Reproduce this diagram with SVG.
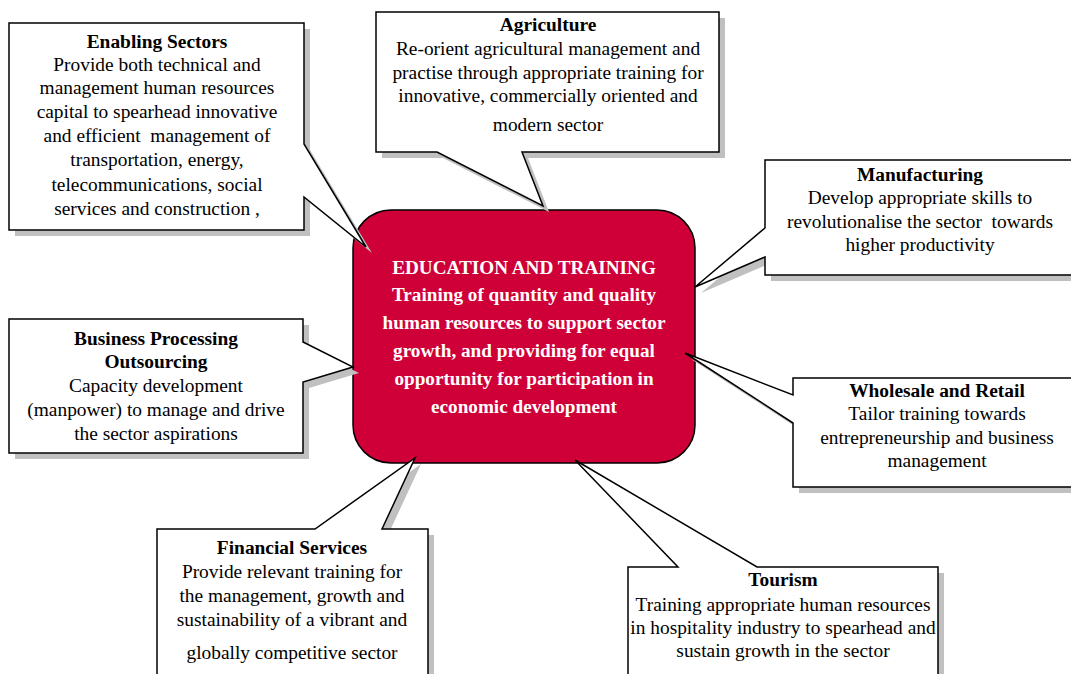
<svg xmlns="http://www.w3.org/2000/svg" width="1071" height="674" viewBox="0 0 1071 674">
<style>
.box{fill:#fff;stroke:#000;stroke-width:1.5;stroke-linejoin:miter}
.sh{fill:#c0c0c0}
.core{fill:#cf0038;stroke:#000;stroke-width:1.5}
text{font-family:"Liberation Serif","Times New Roman",serif;font-size:19.4px;text-anchor:middle;fill:#000}
.b{font-weight:bold}
.w{fill:#fff;font-weight:bold;font-size:19.2px}
</style>
<rect width="1071" height="674" fill="#fff"/>
<g id="connectors"></g>
<g id="core">
<rect class="core" x="353" y="210" width="342" height="253" rx="38" ry="38"/>
<text class="w" x="524" y="274">EDUCATION AND TRAINING</text>
<text class="w" x="524" y="301">Training of quantity and quality</text>
<text class="w" x="524" y="329">human resources to support sector</text>
<text class="w" x="524" y="357">growth, and providing for equal</text>
<text class="w" x="524" y="385">opportunity for participation in</text>
<text class="w" x="524" y="413">economic development</text>
</g>
<g id="enabling">
<path class="sh" transform="translate(6,6)" d="M9,23 H304 V144 L366,247 L304,197 V230 H9 Z"/>
<path class="box" d="M9,23 H304 V144 L366,247 L304,197 V230 H9 Z"/>
<text class="b" x="157" y="48">Enabling Sectors</text>
<text x="157" y="71">Provide both technical and</text>
<text x="157" y="94">management human resources</text>
<text x="157" y="118">capital to spearhead innovative</text>
<text x="157" y="142" xml:space="preserve">and efficient  management of</text>
<text x="157" y="166">transportation, energy,</text>
<text x="157" y="191">telecommunications, social</text>
<text x="157" y="215">services and construction ,</text>
</g>
<g id="agriculture">
<path class="sh" transform="translate(6,6)" d="M376,12 H719 V152 H522 L543,206 L437,152 H376 Z"/>
<path class="box" d="M376,12 H719 V152 H522 L543,206 L437,152 H376 Z"/>
<text class="b" x="548" y="31">Agriculture</text>
<text x="548" y="55">Re-orient agricultural management and</text>
<text x="548" y="79">practise through appropriate training for</text>
<text x="548" y="102">innovative, commercially oriented and</text>
<text x="548" y="131">modern sector</text>
</g>
<g id="manufacturing">
<path class="sh" transform="translate(6,6)" d="M765,160 H1076 V275 H765 V257 L695,287 L765,228 Z"/>
<path class="box" d="M765,160 H1076 V275 H765 V257 L695,287 L765,228 Z"/>
<text class="b" x="920" y="181">Manufacturing</text>
<text x="920" y="204">Develop appropriate skills to</text>
<text x="920" y="228" xml:space="preserve">revolutionalise the sector  towards</text>
<text x="920" y="251">higher productivity</text>
</g>
<g id="bpo">
<path class="sh" transform="translate(6,6)" d="M9,319 H303 V342 L353,367 L303,382 V453 H9 Z"/>
<path class="box" d="M9,319 H303 V342 L353,367 L303,382 V453 H9 Z"/>
<text class="b" x="156" y="345">Business Processing</text>
<text class="b" x="156" y="368">Outsourcing</text>
<text x="156" y="392">Capacity development</text>
<text x="156" y="416">(manpower) to manage and drive</text>
<text x="156" y="440">the sector aspirations</text>
</g>
<g id="wholesale">
<path class="sh" transform="translate(6,6)" d="M793,378 H1076 V487 H793 V423 L685,353 L793,395 Z"/>
<path class="box" d="M793,378 H1076 V487 H793 V423 L685,353 L793,395 Z"/>
<text class="b" x="937" y="397">Wholesale and Retail</text>
<text x="937" y="420">Tailor training towards</text>
<text x="937" y="444">entrepreneurship and business</text>
<text x="937" y="467">management</text>
</g>
<g id="financial">
<path class="sh" transform="translate(6,6)" d="M157,529 H315 L415,458 L382,529 H428 V700 H157 Z"/>
<path class="box" d="M157,529 H315 L415,458 L382,529 H428 V700 H157 Z"/>
<text class="b" x="292" y="554">Financial Services</text>
<text x="292" y="578">Provide relevant training for</text>
<text x="292" y="602">the management, growth and</text>
<text x="292" y="626">sustainability of a vibrant and</text>
<text x="292" y="659">globally competitive sector</text>
</g>
<g id="tourism">
<path class="sh" transform="translate(6,6)" d="M628,567 H678 L575,460 L757,567 H938 V700 H628 Z"/>
<path class="box" d="M628,567 H678 L575,460 L757,567 H938 V700 H628 Z"/>
<text class="b" x="783" y="586">Tourism</text>
<text x="783" y="611">Training appropriate human resources</text>
<text x="783" y="634">in hospitality industry to spearhead and</text>
<text x="783" y="657">sustain growth in the sector</text>
</g>
</svg>
